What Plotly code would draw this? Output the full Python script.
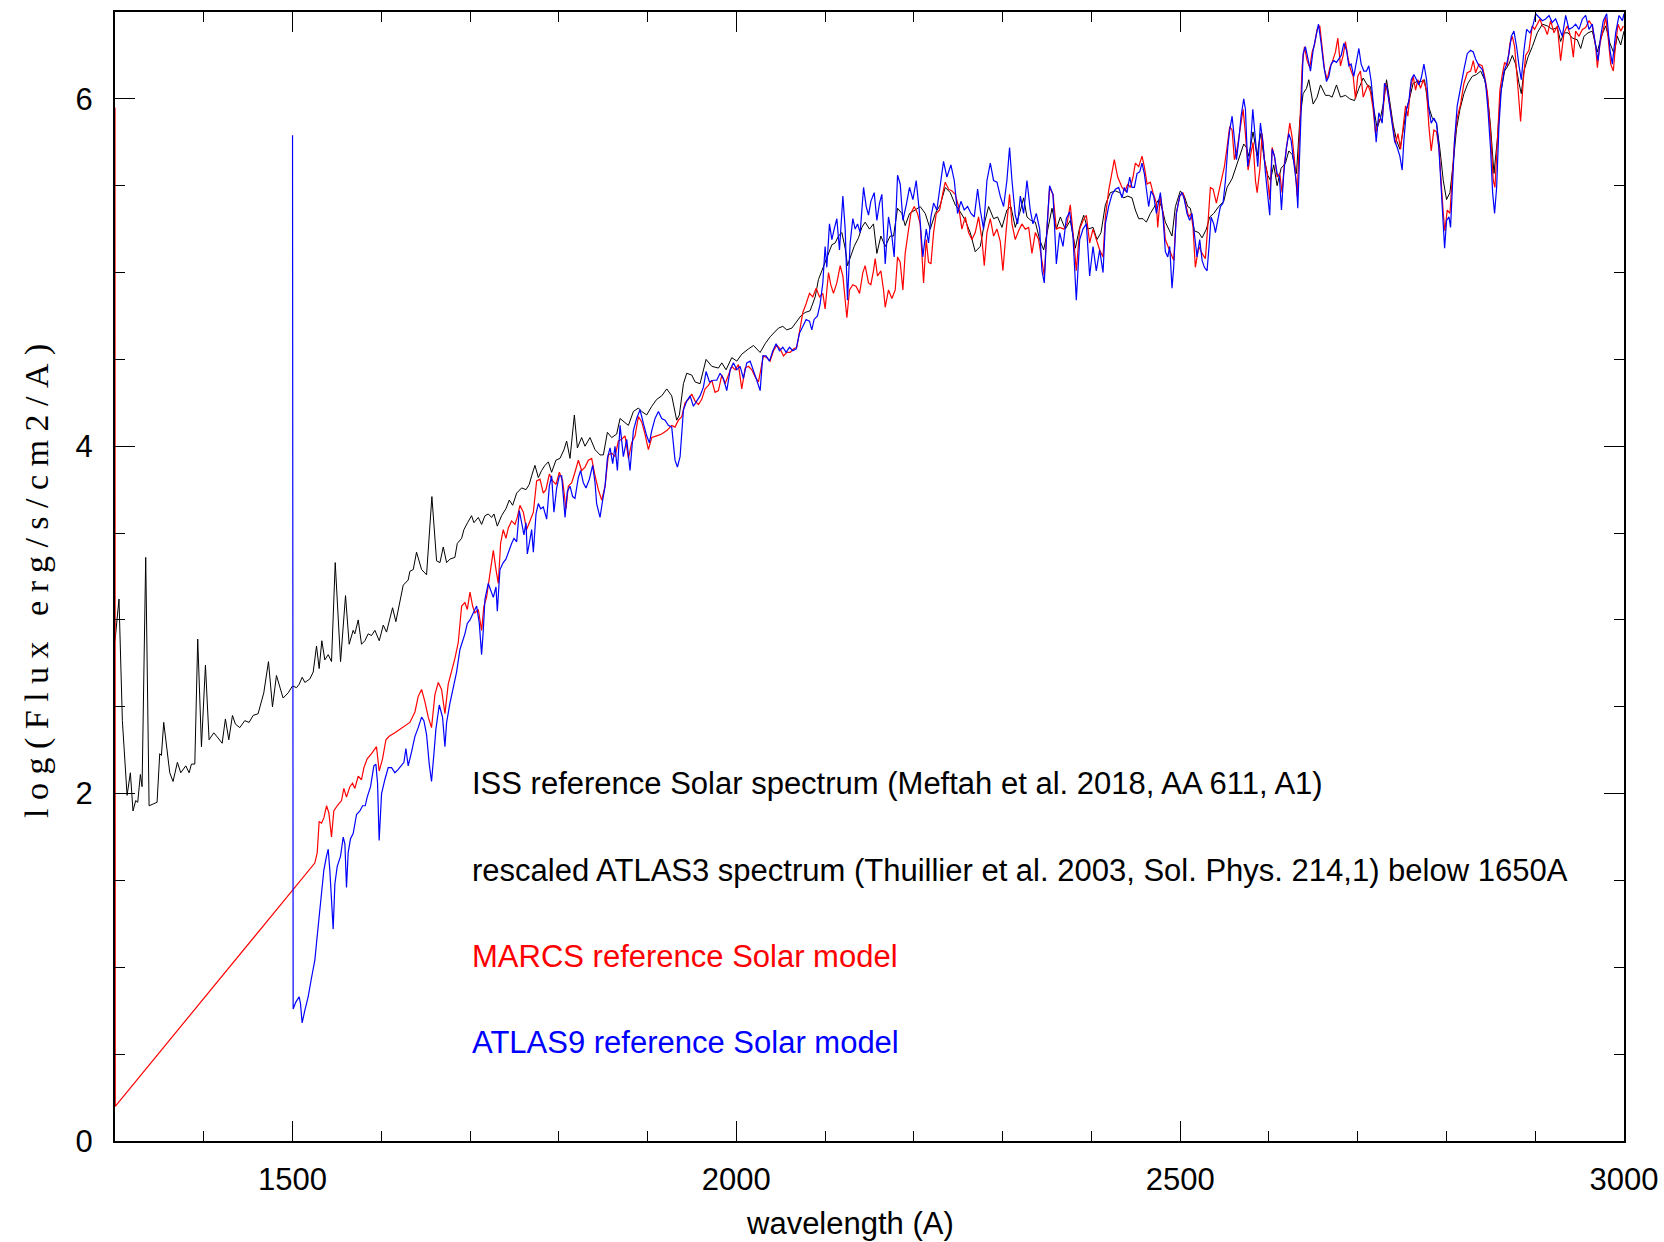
import plotly.graph_objects as go

# ---- ISS reference solar spectrum (black) ----
iss_wl = [
    1300.0, 1304.5, 1308.3, 1311.0, 1313.6, 1317.3, 1320.3, 1323.3, 1325.6, 1328.6,
    1330.5, 1334.6, 1338.4, 1342.9, 1347.4, 1350.4, 1352.3, 1354.9, 1357.9, 1361.7,
    1365.4, 1370.3, 1374.1, 1379.7, 1383.5, 1386.1, 1389.9, 1393.2, 1397.4, 1401.9,
    1406.0, 1411.3, 1416.2, 1420.7, 1424.4, 1428.2, 1432.3, 1435.7, 1440.6, 1446.2,
    1451.1, 1455.6, 1461.2, 1467.6, 1472.9, 1477.4, 1481.9, 1485.7, 1489.4, 1495.1,
    1500.0, 1504.5, 1507.5, 1510.9, 1513.9, 1519.5, 1523.3, 1527.0, 1530.0, 1533.0,
    1536.4, 1540.2, 1543.9, 1548.1, 1554.1, 1559.7, 1563.8, 1568.3, 1570.2, 1574.0,
    1577.7, 1581.5, 1585.2, 1589.0, 1592.8, 1597.7, 1602.2, 1605.9, 1612.7, 1616.4,
    1621.0, 1624.7, 1630.3, 1632.2, 1636.0, 1639.7, 1645.4, 1651.0, 1657.0, 1662.3,
    1666.1, 1669.8, 1673.6, 1677.3, 1682.9, 1685.6, 1690.5, 1693.1, 1697.2, 1701.7,
    1704.4, 1709.3, 1713.0, 1716.8, 1720.5, 1724.3, 1726.9, 1730.7, 1735.5, 1740.4,
    1744.2, 1748.0, 1752.5, 1758.1, 1763.0, 1766.7, 1769.4, 1773.1, 1776.9, 1780.6,
    1784.4, 1788.2, 1791.9, 1796.8, 1801.3, 1805.8, 1808.8, 1812.6, 1817.5, 1820.9,
    1825.7, 1829.5, 1835.1, 1840.8, 1846.4, 1850.2, 1854.7, 1859.6, 1865.2, 1869.0,
    1873.5, 1878.4, 1884.0, 1889.6, 1893.4, 1899.0, 1904.7, 1910.3, 1915.9, 1921.6,
    1927.2, 1932.8, 1935.8, 1940.4, 1944.1, 1949.7, 1953.5, 1959.1, 1965.9, 1972.3,
    1979.8, 1983.6, 1988.4, 1994.8, 2000.5, 2006.1, 2013.6, 2019.3, 2026.8, 2032.4,
    2038.1, 2047.4, 2052.3, 2056.8, 2062.5, 2068.1, 2072.6, 2077.5, 2083.1, 2088.8,
    2092.5, 2096.3, 2100.0, 2103.8, 2107.6, 2111.3, 2115.1, 2118.8, 2122.6, 2125.2,
    2129.0, 2132.7, 2137.6, 2141.4, 2145.1, 2150.0, 2154.5, 2158.3, 2162.8, 2167.7,
    2173.3, 2177.1, 2181.6, 2186.5, 2190.2, 2195.1, 2201.5, 2207.1, 2212.8, 2218.4,
    2224.1, 2229.7, 2235.3, 2241.0, 2246.6, 2252.2, 2257.9, 2263.5, 2269.1, 2274.8,
    2279.3, 2284.2, 2289.8, 2294.3, 2299.2, 2304.8, 2309.3, 2314.2, 2319.1, 2323.6,
    2327.4, 2331.9, 2336.8, 2341.7, 2346.2, 2350.7, 2355.6, 2360.5, 2365.0, 2370.6,
    2376.2, 2381.9, 2386.8, 2391.3, 2395.8, 2401.8, 2406.3, 2410.8, 2415.7, 2421.3,
    2427.0, 2431.8, 2436.4, 2440.9, 2445.7, 2449.5, 2453.3, 2458.1, 2461.9, 2466.4,
    2470.9, 2475.8, 2479.6, 2483.3, 2487.1, 2490.8, 2494.6, 2500.2, 2504.7, 2508.5,
    2511.5, 2516.0, 2520.9, 2524.7, 2529.5, 2533.3, 2537.8, 2543.4, 2549.1, 2552.8,
    2558.5, 2562.2, 2567.1, 2571.6, 2574.6, 2577.3, 2582.1, 2586.7, 2590.4, 2594.9,
    2598.7, 2601.7, 2605.4, 2609.2, 2613.7, 2618.6, 2622.4, 2626.1, 2631.0, 2634.8,
    2638.5, 2642.3, 2644.9, 2649.8, 2654.3, 2658.1, 2663.7, 2667.5, 2671.2, 2676.1,
    2680.6, 2686.2, 2691.1, 2696.4, 2701.3, 2706.2, 2710.7, 2714.4, 2718.2, 2721.9,
    2725.7, 2729.5, 2732.5, 2736.2, 2740.0, 2743.8, 2747.5, 2751.3, 2755.0, 2758.8,
    2762.5, 2767.1, 2771.6, 2775.3, 2779.1, 2784.0, 2788.8, 2792.6, 2796.4, 2800.1,
    2803.9, 2807.6, 2811.4, 2815.2, 2819.7, 2824.2, 2829.1, 2833.9, 2838.5, 2843.0,
    2846.0, 2849.7, 2853.5, 2857.2, 2861.0, 2865.5, 2870.4, 2874.2, 2877.9, 2881.7,
    2884.3, 2887.3, 2891.8, 2896.7, 2902.3, 2908.0, 2913.6, 2919.2, 2924.9, 2928.6,
    2932.4, 2936.9, 2941.8, 2947.4, 2951.2, 2954.9, 2959.5, 2964.3, 2970.0, 2974.5,
    2979.4, 2984.2, 2988.8, 2992.5, 2996.3, 3000.0,
]
iss_flux = [
    2.88, 3.12, 2.42, 2.19, 1.99, 2.12, 1.90, 1.96, 1.95, 2.11,
    2.04, 3.36, 1.93, 1.94, 1.95, 2.23, 2.22, 2.41, 2.27, 2.12,
    2.07, 2.18, 2.12, 2.16, 2.12, 2.17, 2.17, 2.89, 2.27, 2.74,
    2.31, 2.35, 2.32, 2.29, 2.43, 2.31, 2.45, 2.40, 2.38, 2.42,
    2.41, 2.45, 2.46, 2.58, 2.76, 2.50, 2.68, 2.62, 2.55, 2.58,
    2.62, 2.61, 2.63, 2.67, 2.64, 2.66, 2.70, 2.85, 2.72, 2.88,
    2.77, 2.80, 2.76, 3.33, 2.76, 3.14, 2.86, 2.94, 2.92, 3.00,
    2.86, 2.88, 2.92, 2.91, 2.94, 2.88, 2.97, 2.93, 3.07, 2.99,
    3.11, 3.20, 3.23, 3.28, 3.29, 3.39, 3.29, 3.26, 3.71, 3.34,
    3.33, 3.42, 3.33, 3.35, 3.36, 3.44, 3.47, 3.52, 3.56, 3.60,
    3.56, 3.59, 3.55, 3.60, 3.61, 3.59, 3.61, 3.54, 3.60, 3.64,
    3.69, 3.66, 3.73, 3.76, 3.75, 3.78, 3.83, 3.89, 3.82, 3.86,
    3.89, 3.91, 3.85, 3.92, 3.93, 3.98, 4.03, 3.93, 4.18, 3.99,
    4.05, 4.00, 4.05, 3.98, 3.95, 3.95, 4.08, 4.05, 4.07, 4.16,
    4.14, 4.12, 4.20, 4.22, 4.20, 4.18, 4.23, 4.27, 4.29, 4.33,
    4.29, 4.15, 4.18, 4.36, 4.42, 4.41, 4.37, 4.36, 4.50, 4.46,
    4.45, 4.48, 4.44, 4.51, 4.49, 4.53, 4.56, 4.58, 4.54, 4.59,
    4.63, 4.68, 4.69, 4.67, 4.68, 4.72, 4.75, 4.77, 4.78, 4.86,
    4.96, 5.01, 5.06, 5.11, 5.16, 5.17, 5.21, 5.23, 5.14, 5.04,
    5.10, 5.15, 5.20, 5.26, 5.29, 5.25, 5.28, 5.11, 5.21, 5.15,
    5.21, 5.21, 5.37, 5.34, 5.27, 5.34, 5.36, 5.38, 5.34, 5.25,
    5.34, 5.39, 5.49, 5.46, 5.39, 5.35, 5.30, 5.23, 5.12, 5.15,
    5.28, 5.38, 5.31, 5.32, 5.26, 5.36, 5.38, 5.26, 5.34, 5.43,
    5.32, 5.30, 5.29, 5.19, 5.13, 5.25, 5.37, 5.25, 5.32, 5.25,
    5.30, 5.14, 5.26, 5.33, 5.25, 5.26, 5.19, 5.23, 5.39, 5.46,
    5.47, 5.46, 5.43, 5.44, 5.43, 5.36, 5.31, 5.31, 5.29, 5.34,
    5.38, 5.42, 5.37, 5.29, 5.25, 5.21, 5.38, 5.47, 5.44, 5.38,
    5.37, 5.24, 5.23, 5.20, 5.25, 5.32, 5.34, 5.38, 5.41, 5.49,
    5.54, 5.60, 5.67, 5.74, 5.72, 5.67, 5.81, 5.67, 5.80, 5.65,
    5.56, 5.53, 5.62, 5.50, 5.60, 5.63, 5.70, 5.68, 5.57, 5.88,
    6.03, 6.06, 6.11, 5.97, 6.01, 6.08, 6.02, 6.02, 6.01, 6.08,
    6.01, 6.02, 6.00, 5.99, 6.06, 6.12, 6.08, 6.07, 5.94, 5.83,
    5.89, 5.99, 6.11, 5.99, 5.85, 5.76, 5.71, 5.82, 5.94, 6.01,
    6.09, 6.10, 6.10, 6.11, 5.97, 5.89, 5.86, 5.71, 5.53, 5.42,
    5.46, 5.63, 5.83, 5.94, 6.03, 6.09, 6.13, 6.14, 6.16, 6.11,
    6.03, 5.84, 5.57, 5.76, 6.03, 6.16, 6.20, 6.25, 6.20, 6.09,
    6.03, 6.16, 6.24, 6.30, 6.38, 6.43, 6.42, 6.40, 6.41, 6.33,
    6.38, 6.38, 6.35, 6.34, 6.29, 6.36, 6.38, 6.39, 6.27, 6.36,
    6.42, 6.32, 6.26, 6.36, 6.31, 6.39,
]

# ---- MARCS solar model (red) ----
marcs_wl = [
    1300.0, 1300.3, 1525.1, 1527.8, 1530.0, 1532.6, 1535.3,
    1538.3, 1540.9, 1543.9, 1546.5, 1550.3, 1555.2, 1557.8, 1560.8, 1564.6, 1567.6,
    1570.2, 1574.0, 1577.7, 1580.4, 1584.1, 1589.0, 1592.8, 1594.6, 1597.6, 1601.4,
    1605.2, 1608.9, 1615.3, 1621.0, 1626.6, 1632.2, 1637.9, 1641.6, 1645.4, 1649.1,
    1652.9, 1656.6, 1660.4, 1664.2, 1667.9, 1671.7, 1675.4, 1679.2, 1683.0, 1686.7,
    1690.5, 1694.2, 1696.9, 1699.9, 1702.9, 1705.5, 1709.3, 1713.0, 1715.6, 1718.6,
    1722.4, 1726.2, 1729.2, 1731.8, 1734.4, 1737.4, 1740.4, 1743.1, 1746.8, 1750.6,
    1753.2, 1756.2, 1760.0, 1763.7, 1767.5, 1771.3, 1775.0, 1778.8, 1782.5, 1785.5,
    1789.3, 1793.1, 1796.8, 1800.6, 1804.3, 1808.1, 1810.7, 1814.5, 1818.2, 1822.0,
    1825.7, 1829.5, 1833.3, 1837.0, 1840.8, 1844.5, 1848.3, 1852.1, 1855.8, 1859.6,
    1863.3, 1867.1, 1870.8, 1874.6, 1878.4, 1882.1, 1885.9, 1889.6, 1893.4, 1897.1,
    1900.9, 1904.7, 1910.3, 1915.9, 1921.6, 1927.2, 1930.9, 1934.7, 1938.5, 1942.2,
    1946.0, 1949.7, 1953.5, 1957.3, 1961.0, 1964.8, 1968.5, 1972.3, 1976.0, 1979.8,
    1983.6, 1987.3, 1991.1, 1994.8, 1998.6, 2002.3, 2006.1, 2009.9, 2013.6, 2017.4,
    2021.1, 2024.9, 2030.5, 2034.3, 2038.0, 2041.8, 2045.6, 2049.3, 2053.1, 2056.8,
    2060.6, 2064.4, 2068.1, 2071.1, 2074.9, 2078.6, 2082.4, 2086.1, 2089.9, 2093.7,
    2097.4, 2100.0, 2103.8, 2106.4, 2109.4, 2113.2, 2117.0, 2120.0, 2122.6, 2124.5,
    2127.5, 2131.2, 2135.0, 2138.8, 2142.5, 2145.1, 2148.9, 2151.5, 2154.5, 2156.4,
    2159.0, 2162.8, 2165.8, 2167.7, 2171.4, 2175.2, 2179.0, 2181.6, 2184.6, 2187.6,
    2190.2, 2194.0, 2196.6, 2200.4, 2204.1, 2207.1, 2210.9, 2213.9, 2216.5, 2219.2,
    2222.2, 2225.2, 2229.0, 2232.7, 2235.3, 2239.1, 2242.8, 2246.6, 2250.4, 2254.1,
    2257.9, 2261.6, 2265.4, 2269.1, 2272.9, 2276.7, 2279.3, 2282.3, 2286.1, 2289.8,
    2293.6, 2297.3, 2300.3, 2304.1, 2307.8, 2310.5, 2314.2, 2318.0, 2321.7, 2325.5,
    2329.3, 2333.0, 2336.8, 2340.5, 2344.3, 2346.9, 2349.9, 2352.9, 2356.7, 2360.5,
    2364.2, 2368.7, 2372.5, 2376.2, 2380.0, 2383.0, 2386.8, 2390.5, 2394.3, 2398.0,
    2401.8, 2405.5, 2409.3, 2413.1, 2415.7, 2419.4, 2423.2, 2425.8, 2429.6, 2434.5,
    2438.2, 2440.9, 2443.9, 2446.9, 2449.5, 2453.3, 2457.0, 2459.6, 2462.7, 2466.4,
    2469.4, 2473.2, 2474.7, 2477.7, 2480.7, 2483.3, 2487.1, 2489.7, 2492.7, 2495.7,
    2499.5, 2503.2, 2507.0, 2509.6, 2512.3, 2514.5, 2517.1, 2520.9, 2524.7, 2528.4,
    2531.0, 2534.0, 2537.1, 2540.8, 2544.6, 2547.2, 2549.8, 2552.8, 2555.8, 2558.5,
    2561.1, 2564.1, 2567.1, 2570.9, 2573.5, 2576.5, 2579.1, 2582.1, 2584.8, 2586.7,
    2589.7, 2592.3, 2594.9, 2597.9, 2600.9, 2603.6, 2606.2, 2609.2, 2612.2, 2614.8,
    2617.5, 2620.5, 2623.5, 2626.1, 2628.7, 2631.8, 2634.8, 2637.4, 2640.0, 2643.0,
    2646.0, 2648.7, 2651.3, 2654.3, 2657.3, 2659.9, 2662.6, 2665.6, 2668.6, 2671.2,
    2675.0, 2677.6, 2680.6, 2683.6, 2686.2, 2688.9, 2691.9, 2694.9, 2697.5, 2700.1,
    2703.1, 2706.2, 2708.8, 2711.4, 2714.4, 2717.4, 2720.1, 2723.8, 2727.6, 2731.4,
    2734.0, 2737.0, 2740.0, 2742.6, 2745.3, 2748.3, 2751.3, 2753.9, 2756.5, 2759.5,
    2762.5, 2765.2, 2767.8, 2770.8, 2773.8, 2777.6, 2780.2, 2782.8, 2785.8, 2788.8,
    2791.5, 2794.1, 2796.4, 2798.2, 2800.9, 2803.9, 2806.5, 2809.1, 2812.1, 2815.9,
    2819.7, 2823.4, 2827.2, 2830.2, 2832.8, 2836.6, 2840.3, 2843.0, 2846.0, 2849.7,
    2852.7, 2854.6, 2857.2, 2860.2, 2862.9, 2865.5, 2868.5, 2871.5, 2874.2, 2876.8,
    2879.8, 2883.5, 2886.6, 2889.2, 2892.9, 2896.7, 2899.3, 2902.3, 2905.3, 2908.0,
    2910.6, 2913.6, 2917.4, 2921.1, 2924.9, 2928.6, 2932.4, 2936.1, 2939.9, 2942.9,
    2945.5, 2949.3, 2953.1, 2956.8, 2960.6, 2964.3, 2968.1, 2970.0, 2973.0, 2976.7,
    2979.4, 2982.0, 2985.0, 2988.0, 2990.6, 2993.3, 2996.3, 2999.3,
]
marcs_flux = [
    5.95, 0.20, 1.60, 1.66, 1.84, 1.83, 1.86,
    1.93, 1.89, 1.75, 1.90, 1.93, 1.96, 2.03, 1.98, 2.04, 2.06,
    2.03, 2.10, 2.08, 2.15, 2.20, 2.23, 2.26, 2.27, 2.13, 2.20,
    2.31, 2.33, 2.35, 2.37, 2.39, 2.41, 2.47, 2.56, 2.60, 2.53,
    2.44, 2.38, 2.57, 2.64, 2.60, 2.46, 2.63, 2.70, 2.78, 2.87,
    3.08, 3.10, 3.06, 3.16, 3.08, 3.04, 3.06, 2.94, 3.08, 3.13,
    3.27, 3.40, 3.29, 3.21, 3.44, 3.52, 3.47, 3.53, 3.57, 3.55,
    3.59, 3.66, 3.62, 3.52, 3.57, 3.62, 3.80, 3.81, 3.73, 3.75,
    3.84, 3.80, 3.78, 3.85, 3.80, 3.64, 3.77, 3.79, 3.85, 3.92,
    3.86, 3.88, 3.92, 3.93, 3.83, 3.75, 3.69, 3.77, 3.95, 3.96,
    3.94, 4.03, 4.04, 4.06, 3.93, 4.02, 4.06, 4.17, 4.14, 4.07,
    3.98, 4.05, 4.06, 4.07, 4.09, 4.12, 4.11, 4.15, 4.17, 4.25,
    4.27, 4.30, 4.26, 4.24, 4.27, 4.33, 4.35, 4.38, 4.31, 4.32,
    4.41, 4.36, 4.41, 4.46, 4.44, 4.47, 4.33, 4.45, 4.46, 4.44,
    4.40, 4.37, 4.52, 4.51, 4.49, 4.55, 4.58, 4.56, 4.52, 4.54,
    4.54, 4.56, 4.57, 4.65, 4.77, 4.82, 4.88, 4.86, 4.91, 4.86,
    4.88, 4.79, 5.00, 4.93, 4.88, 4.94, 5.04, 4.98, 4.86, 4.74,
    4.90, 4.93, 4.92, 4.88, 5.00, 5.04, 4.94, 4.93, 5.01, 5.08,
    4.98, 5.01, 4.90, 4.80, 4.90, 4.85, 4.90, 5.09, 5.06, 4.90,
    5.11, 5.26, 5.34, 5.38, 5.34, 5.28, 4.94, 5.19, 5.06, 5.05,
    5.23, 5.34, 5.36, 5.46, 5.52, 5.48, 5.47, 5.45, 5.38, 5.25,
    5.32, 5.23, 5.19, 5.23, 5.32, 5.19, 5.04, 5.23, 5.31, 5.21,
    5.25, 5.18, 5.01, 5.25, 5.45, 5.28, 5.19, 5.24, 5.28, 5.25,
    5.26, 5.11, 5.23, 5.19, 5.06, 4.98, 5.25, 5.49, 5.45, 5.25,
    5.26, 5.25, 5.28, 5.39, 5.19, 5.01, 5.25, 5.30, 5.33, 5.17,
    5.25, 5.19, 5.13, 5.09, 5.32, 5.47, 5.58, 5.65, 5.55, 5.49,
    5.47, 5.51, 5.49, 5.55, 5.63, 5.61, 5.67, 5.61, 5.51, 5.52,
    5.46, 5.40, 5.26, 5.44, 5.34, 5.19, 5.14, 5.11, 5.07, 5.34,
    5.44, 5.46, 5.38, 5.32, 5.34, 5.26, 5.03, 5.15, 5.11, 5.08,
    5.26, 5.49, 5.48, 5.40, 5.49, 5.55, 5.61, 5.72, 5.84, 5.82,
    5.65, 5.71, 5.81, 5.94, 5.80, 5.59, 5.67, 5.75, 5.53, 5.46,
    5.59, 5.80, 5.65, 5.57, 5.42, 5.72, 5.67, 5.55, 5.57, 5.46,
    5.63, 5.76, 5.86, 5.78, 5.65, 5.44, 5.84, 6.19, 6.30, 6.22,
    6.18, 6.27, 6.31, 6.40, 6.42, 6.30, 6.17, 6.11, 6.18, 6.21,
    6.27, 6.35, 6.19, 6.25, 6.33, 6.24, 6.17, 6.13, 6.00, 6.13,
    6.16, 6.01, 6.05, 6.08, 6.04, 5.94, 5.80, 5.88, 5.88, 6.09,
    6.03, 5.94, 5.83, 5.74, 5.80, 5.71, 5.84, 5.96, 5.90, 6.06,
    6.13, 6.05, 6.11, 6.06, 6.11, 6.05, 5.84, 5.70, 5.82, 5.81,
    5.72, 5.49, 5.34, 5.24, 5.36, 5.34, 5.53, 5.76, 5.89, 5.97,
    6.09, 6.15, 6.16, 6.22, 6.15, 6.20, 6.19, 6.13, 6.04, 5.80,
    5.53, 5.49, 5.74, 6.05, 6.14, 6.21, 6.19, 6.32, 6.36, 6.30,
    6.11, 5.87, 6.11, 6.25, 6.28, 6.42, 6.40, 6.43, 6.46, 6.42,
    6.41, 6.37, 6.45, 6.38, 6.42, 6.22, 6.38, 6.42, 6.36, 6.24,
    6.39, 6.36, 6.40, 6.41, 6.45, 6.42, 6.30, 6.18, 6.32, 6.40,
    6.47, 6.36, 6.20, 6.16, 6.32, 6.43, 6.39, 6.42,
]

# ---- ATLAS9 solar model (blue) ----
atlas_wl = [
    1500.0, 1500.7, 1503.7, 1507.5, 1509.0, 1510.8, 1513.8, 1517.6, 1521.4, 1525.1,
    1527.8, 1530.8, 1532.6, 1535.3, 1538.3, 1540.2, 1542.0, 1543.9, 1545.8, 1547.7,
    1550.3, 1554.1, 1557.1, 1559.0, 1560.8, 1562.7, 1565.3, 1568.3, 1572.1, 1575.9,
    1578.9, 1581.9, 1584.1, 1587.9, 1591.6, 1593.9, 1595.8, 1597.6, 1600.3, 1604.0,
    1607.8, 1611.6, 1615.3, 1619.1, 1622.8, 1625.5, 1627.7, 1630.3, 1634.1, 1637.9,
    1641.6, 1645.4, 1648.0, 1651.0, 1654.0, 1656.6, 1659.3, 1661.5, 1665.3, 1669.0,
    1671.7, 1673.6, 1677.3, 1681.1, 1684.8, 1688.6, 1691.6, 1694.2, 1696.9, 1699.9,
    1703.6, 1707.4, 1710.4, 1713.0, 1714.9, 1716.8, 1720.5, 1723.2, 1726.2, 1729.2,
    1730.7, 1733.7, 1737.4, 1740.4, 1743.1, 1746.8, 1749.5, 1752.5, 1755.5, 1758.1,
    1760.7, 1763.0, 1764.5, 1766.7, 1769.4, 1771.3, 1774.3, 1776.9, 1779.5, 1782.5,
    1786.3, 1789.3, 1791.9, 1794.5, 1797.6, 1800.6, 1803.2, 1807.0, 1809.6, 1812.6,
    1815.6, 1818.2, 1822.0, 1824.6, 1827.6, 1830.6, 1834.4, 1838.1, 1840.8, 1842.6,
    1846.4, 1849.4, 1852.1, 1854.7, 1857.7, 1860.7, 1863.3, 1866.0, 1869.0, 1872.7,
    1876.5, 1880.2, 1884.0, 1887.7, 1891.5, 1895.3, 1899.0, 1902.0, 1904.7, 1908.4,
    1912.2, 1915.9, 1919.7, 1923.4, 1927.2, 1930.9, 1933.6, 1936.6, 1940.4, 1944.1,
    1947.9, 1951.6, 1955.4, 1959.1, 1962.9, 1965.9, 1969.7, 1974.2, 1977.9, 1981.7,
    1985.4, 1989.2, 1993.0, 1996.7, 2000.5, 2004.2, 2008.0, 2011.7, 2015.5, 2019.3,
    2023.0, 2026.8, 2029.8, 2033.5, 2037.3, 2041.1, 2044.8, 2048.6, 2052.3, 2056.1,
    2059.8, 2063.6, 2067.4, 2071.1, 2074.9, 2078.6, 2082.4, 2085.0, 2087.6, 2091.4,
    2094.4, 2097.4, 2100.0, 2101.9, 2104.9, 2107.6, 2110.2, 2113.2, 2116.2, 2120.0,
    2122.6, 2125.2, 2128.2, 2131.2, 2133.9, 2136.5, 2139.5, 2143.3, 2146.3, 2148.9,
    2151.5, 2155.3, 2158.3, 2161.3, 2163.9, 2167.7, 2171.4, 2175.2, 2177.8, 2181.6,
    2184.6, 2187.6, 2191.4, 2195.1, 2198.9, 2202.6, 2206.4, 2210.1, 2213.9, 2216.5,
    2219.2, 2222.2, 2225.9, 2229.7, 2233.4, 2237.2, 2241.7, 2245.5, 2249.2, 2253.0,
    2256.7, 2260.5, 2264.3, 2268.0, 2271.8, 2274.8, 2278.5, 2282.3, 2286.1, 2289.8,
    2293.6, 2297.3, 2301.1, 2304.8, 2307.8, 2310.5, 2314.2, 2316.9, 2319.9, 2323.6,
    2327.4, 2331.1, 2334.1, 2337.9, 2341.7, 2344.3, 2346.9, 2349.9, 2352.9, 2356.7,
    2360.5, 2364.2, 2368.0, 2371.7, 2375.5, 2379.2, 2383.0, 2386.8, 2390.5, 2394.3,
    2398.0, 2401.8, 2405.5, 2409.3, 2413.1, 2415.7, 2419.4, 2423.2, 2427.0, 2430.7,
    2434.5, 2437.1, 2440.1, 2443.1, 2445.7, 2448.4, 2451.4, 2454.4, 2457.0, 2459.6,
    2462.7, 2464.5, 2467.2, 2470.2, 2473.2, 2475.8, 2477.7, 2480.7, 2483.3, 2486.0,
    2488.2, 2490.8, 2492.7, 2495.7, 2499.5, 2502.1, 2504.7, 2507.7, 2510.8, 2513.4,
    2516.0, 2519.0, 2522.0, 2524.7, 2527.3, 2530.3, 2532.5, 2534.8, 2537.8, 2539.7,
    2542.3, 2545.3, 2548.3, 2551.0, 2553.6, 2555.8, 2558.5, 2560.4, 2563.4, 2566.0,
    2568.6, 2571.6, 2573.5, 2576.1, 2579.1, 2581.8, 2584.8, 2587.4, 2590.4, 2593.4,
    2596.1, 2598.7, 2600.9, 2603.6, 2606.2, 2609.2, 2611.8, 2614.1, 2616.7, 2619.7,
    2622.4, 2625.0, 2628.0, 2631.0, 2632.5, 2635.5, 2638.5, 2641.1, 2643.8, 2646.8,
    2649.8, 2652.4, 2655.8, 2658.8, 2661.8, 2664.8, 2667.5, 2670.1, 2673.1, 2676.1,
    2678.7, 2681.4, 2684.4, 2687.4, 2690.0, 2692.6, 2695.6, 2698.6, 2701.3, 2703.9,
    2706.9, 2709.9, 2712.5, 2715.2, 2718.2, 2720.8, 2723.8, 2727.6, 2730.2, 2733.2,
    2736.2, 2738.9, 2741.5, 2744.5, 2747.5, 2750.1, 2752.0, 2755.0, 2757.7, 2760.3,
    2763.3, 2766.3, 2768.9, 2771.6, 2774.6, 2777.6, 2780.2, 2782.8, 2785.8, 2788.8,
    2791.5, 2794.1, 2796.4, 2797.9, 2800.1, 2802.8, 2804.6, 2806.5, 2809.1, 2812.1,
    2815.9, 2819.7, 2823.4, 2827.2, 2830.2, 2832.8, 2836.6, 2840.3, 2844.1, 2846.7,
    2849.7, 2852.0, 2854.2, 2856.5, 2859.1, 2861.7, 2864.8, 2867.8, 2870.4, 2873.0,
    2876.0, 2879.0, 2881.7, 2884.3, 2887.3, 2890.3, 2894.1, 2897.8, 2900.5, 2904.2,
    2908.0, 2911.7, 2915.5, 2919.2, 2923.0, 2926.8, 2930.5, 2934.3, 2938.0, 2941.8,
    2945.5, 2949.3, 2953.1, 2956.8, 2960.6, 2964.3, 2968.1, 2970.7, 2973.7, 2976.7,
    2980.5, 2984.2, 2986.9, 2990.6, 2994.4, 2998.2, 3000.0,
]
atlas_flux = [
    5.79, 0.76, 0.80, 0.83, 0.79, 0.68, 0.75, 0.83, 0.94, 1.04,
    1.18, 1.33, 1.39, 1.56, 1.64, 1.68, 1.56, 1.35, 1.22, 1.48,
    1.58, 1.64, 1.75, 1.71, 1.46, 1.66, 1.74, 1.77, 1.88, 1.90,
    1.93, 1.93, 1.98, 2.04, 2.16, 2.17, 2.06, 1.73, 2.00, 2.08,
    2.15, 2.15, 2.12, 2.14, 2.16, 2.18, 2.26, 2.16, 2.24, 2.33,
    2.38, 2.44, 2.42, 2.34, 2.17, 2.07, 2.23, 2.37, 2.51, 2.44,
    2.27, 2.41, 2.52, 2.61, 2.70, 2.83, 2.88, 2.92, 2.98, 3.00,
    3.04, 3.08, 2.98, 2.80, 2.94, 3.12, 3.21, 3.17, 3.13, 3.19,
    3.05, 3.29, 3.33, 3.35, 3.39, 3.44, 3.47, 3.45, 3.63, 3.56,
    3.49, 3.56, 3.38, 3.44, 3.52, 3.39, 3.61, 3.67, 3.64, 3.65,
    3.58, 3.77, 3.83, 3.62, 3.76, 3.83, 3.83, 3.59, 3.74, 3.77,
    3.71, 3.70, 3.82, 3.86, 3.79, 3.76, 3.81, 3.89, 3.79, 3.67,
    3.59, 3.69, 3.77, 3.93, 3.99, 3.90, 4.00, 3.86, 4.12, 3.94,
    4.04, 3.86, 4.09, 4.16, 4.21, 4.13, 4.06, 4.02, 4.09, 4.16,
    4.20, 4.16, 4.15, 4.12, 4.11, 3.92, 3.88, 3.94, 4.21, 4.26,
    4.29, 4.23, 4.26, 4.29, 4.34, 4.43, 4.37, 4.38, 4.38, 4.42,
    4.39, 4.32, 4.44, 4.48, 4.44, 4.46, 4.39, 4.48, 4.49, 4.44,
    4.38, 4.32, 4.52, 4.52, 4.49, 4.55, 4.59, 4.55, 4.57, 4.54,
    4.57, 4.55, 4.56, 4.65, 4.69, 4.73, 4.72, 4.67, 4.73, 4.75,
    4.82, 4.94, 5.15, 5.03, 5.28, 5.19, 5.25, 5.31, 5.13, 5.44,
    5.25, 4.84, 5.17, 5.31, 5.25, 5.28, 5.23, 5.49, 5.38, 5.33,
    5.41, 5.46, 5.30, 5.40, 5.45, 5.05, 5.32, 5.21, 5.09, 5.56,
    5.51, 5.30, 5.39, 5.49, 5.42, 5.53, 5.34, 5.09, 5.25, 5.17,
    5.32, 5.40, 5.36, 5.49, 5.64, 5.55, 5.62, 5.53, 5.34, 5.41,
    5.36, 5.38, 5.34, 5.32, 5.48, 5.36, 5.25, 5.53, 5.63, 5.53,
    5.52, 5.44, 5.38, 5.53, 5.72, 5.53, 5.33, 5.28, 5.44, 5.34,
    5.53, 5.36, 5.28, 5.34, 5.25, 5.01, 4.94, 5.25, 5.50, 5.45,
    5.05, 5.23, 5.15, 5.31, 5.35, 5.21, 4.84, 5.19, 5.25, 5.28,
    4.98, 5.15, 5.01, 5.13, 5.00, 5.28, 5.38, 5.45, 5.48, 5.49,
    5.43, 5.49, 5.46, 5.55, 5.49, 5.49, 5.57, 5.58, 5.63, 5.57,
    5.44, 5.38, 5.47, 5.44, 5.34, 5.42, 5.46, 5.32, 5.12, 5.09,
    5.15, 4.91, 5.03, 5.34, 5.44, 5.46, 5.42, 5.34, 5.30, 5.34,
    5.21, 5.09, 5.19, 5.07, 5.03, 5.01, 5.15, 5.32, 5.28, 5.23,
    5.30, 5.38, 5.40, 5.53, 5.72, 5.82, 5.90, 5.80, 5.65, 5.76,
    5.90, 6.00, 5.94, 5.61, 5.72, 5.94, 5.76, 5.61, 5.86, 5.74,
    5.57, 5.42, 5.33, 5.71, 5.67, 5.57, 5.55, 5.36, 5.57, 5.72,
    5.80, 5.76, 5.63, 5.51, 5.37, 5.88, 6.26, 6.30, 6.24, 6.16,
    6.28, 6.34, 6.43, 6.32, 6.19, 6.10, 6.13, 6.20, 6.22, 6.21,
    6.23, 6.25, 6.32, 6.28, 6.19, 6.20, 6.13, 6.22, 6.29, 6.20,
    6.16, 6.16, 6.19, 6.10, 5.94, 5.75, 5.92, 5.86, 6.09, 6.06,
    5.94, 5.83, 5.76, 5.72, 5.67, 5.59, 5.76, 5.94, 5.99, 6.11,
    6.14, 6.11, 6.08, 6.12, 6.20, 6.11, 5.94, 5.86, 5.89, 5.86,
    5.71, 5.48, 5.26, 5.14, 5.30, 5.32, 5.26, 5.51, 5.76, 5.96,
    6.07, 6.17, 6.26, 6.28, 6.27, 6.23, 6.19, 6.17, 6.09, 5.94,
    5.71, 5.46, 5.34, 5.49, 5.84, 6.05, 6.16, 6.20, 6.26, 6.36,
    6.39, 6.30, 6.19, 6.11, 6.28, 6.40, 6.38, 6.43, 6.49, 6.47,
    6.45, 6.46, 6.48, 6.44, 6.46, 6.41, 6.36, 6.48, 6.40, 6.41,
    6.43, 6.40, 6.46, 6.48, 6.40, 6.43, 6.30, 6.22, 6.36, 6.45,
    6.49, 6.28, 6.20, 6.38, 6.48, 6.45, 6.49,
]

# ---- caption lines drawn inside the plot ----
caption_lines = [
    ("ISS reference Solar spectrum (Meftah et al. 2018, AA 611, A1)", "#000000", 2.06),
    ("rescaled ATLAS3 spectrum (Thuillier et al. 2003, Sol. Phys. 214,1) below 1650A", "#000000", 1.56),
    ("MARCS reference Solar model", "#ff0000", 1.06),
    ("ATLAS9 reference Solar model", "#0000ff", 0.57),
]
caption_x = 1700

x_range = [1300, 3000]
y_range = [0, 6.5]

fig = go.Figure()
fig.add_trace(go.Scatter(x=iss_wl, y=iss_flux, mode="lines",
                         line=dict(color="#000000", width=1), showlegend=False))
fig.add_trace(go.Scatter(x=marcs_wl, y=marcs_flux, mode="lines",
                         line=dict(color="#ff0000", width=1.2), showlegend=False))
fig.add_trace(go.Scatter(x=atlas_wl, y=atlas_flux, mode="lines",
                         line=dict(color="#0000ff", width=1.2), showlegend=False))

sans = "Liberation Sans, Arial, Helvetica, sans-serif"
font_size = 31
for text, color, yv in caption_lines:
    fig.add_annotation(x=caption_x, y=yv, xref="x", yref="y", text=text,
                       showarrow=False, xanchor="left", yanchor="middle",
                       font=dict(family=sans, size=font_size, color=color))

# axis titles
fig.add_annotation(x=0.487, y=-0.0735, xref="paper", yref="paper",
                   text="wavelength (A)", showarrow=False,
                   xanchor="center", yanchor="middle",
                   font=dict(family=sans, size=font_size, color="#000000"))
fig.add_annotation(x=-0.052, y=0.5, xref="paper", yref="paper",
                   text='<span style="letter-spacing:8.5px">log(Flux erg/s/cm2/A)</span>',
                   showarrow=False, textangle=-90,
                   xanchor="center", yanchor="middle",
                   font=dict(family="Liberation Serif, serif", size=34, color="#000000"))

axis_common = dict(
    showgrid=False, zeroline=False, showline=True, linecolor="#000000",
    linewidth=2, mirror="ticks", ticks="inside", tickcolor="#000000",
    tickwidth=1, ticklen=20, automargin=False,
    tickfont=dict(family=sans, size=font_size, color="#000000"),
)

fig.update_xaxes(range=x_range, tickmode="linear", tick0=1500, dtick=500,
                 ticklabelstandoff=10,
                 minor=dict(ticks="inside", ticklen=10, tickmode="linear",
                            tick0=1300, dtick=100, tickcolor="#000000", tickwidth=1),
                 **axis_common)
fig.update_yaxes(range=y_range, tickmode="linear", tick0=0, dtick=2,
                 ticklabelstandoff=14,
                 minor=dict(ticks="inside", ticklen=10, tickmode="linear",
                            tick0=0, dtick=0.5, tickcolor="#000000", tickwidth=1),
                 **axis_common)

fig.update_layout(
    width=1664, height=1242,
    margin=dict(l=115, r=40, t=12, b=101),
    paper_bgcolor="#ffffff", plot_bgcolor="#ffffff",
    showlegend=False,
)

fig.write_html("out.html")
